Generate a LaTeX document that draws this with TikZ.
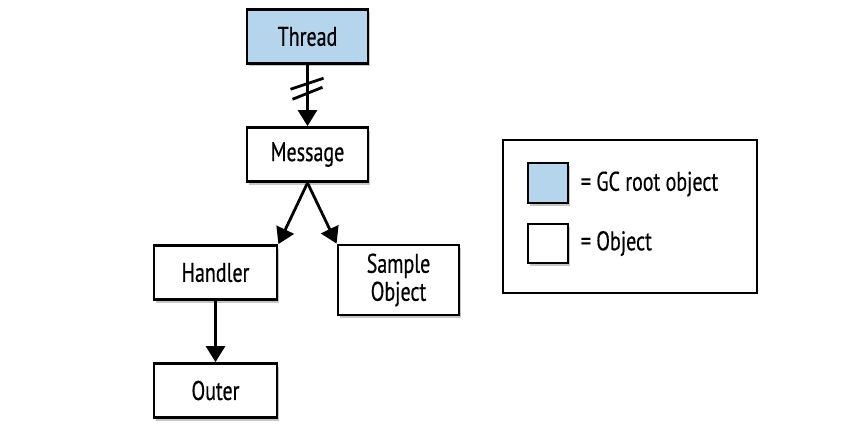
\documentclass[tikz,border=0pt]{standalone}
\usepackage{fontspec}
\setmainfont{PT Sans}[FakeStretch=0.74,FakeBold=0.5]
\usetikzlibrary{calc,arrows.meta,shadows}
\definecolor{gcblue}{RGB}{180,213,235}

\begin{document}
\begin{tikzpicture}[x=1pt,y=-1pt]
  \tikzset{obj/.style={shape=rectangle,draw,line width=2.8pt,fill=white,text centered,
      minimum width=121pt,minimum height=54pt,font=\fontsize{27}{28}\selectfont,
      drop shadow={shadow xshift=2pt,shadow yshift=-3pt,opacity=0.45}}};
  \tikzset{ref/.style={line width=2.8pt,arrows={-Triangle[length=16pt,width=19pt]}}};
  \useasboundingbox (0,0) rectangle (846,444);
  \node[obj,fill=gcblue] (T) at (307.5,36.5){Thread};
  \node[obj] (M) at (307.5,154.5){Message};
  \node[obj,minimum width=123pt] (H) at (215.5,272.5){Handler};
  \node[obj,minimum height=70pt,align=center] (S) at (398.5,280){Sample\\Object};
  \node[obj,minimum width=123pt] (O) at (215.5,390.5){Outer};
  % legend
  \node[draw,line width=2.8pt,minimum width=254pt,minimum height=153pt] (L) at (630,216.5){};
  \node[obj,fill=gcblue,minimum width=40pt,minimum height=40pt] (LG) at (548,183){};
  \node[obj,minimum width=40pt,minimum height=39pt] (LO) at (548,243.5){};
  \node[anchor=west,font=\fontsize{27}{28}\selectfont] (LGt) at ($(LG.east)+(8,1)$){= GC root object};
  \node[anchor=west,font=\fontsize{27}{28}\selectfont] (LOt) at ($(LO.east)+(8,0)$){= Object};
  \draw[ref] (T) -- (M);
  \coordinate (B) at ($(T.south)!0.3!(M.north)$);
  \draw[line width=2.8pt] ($(B)+(-17,6)$) -- ($(B)+(16,-5)$);
  \draw[line width=2.8pt] ($(B)+(-15,16)$) -- ($(B)+(15,4)$);
  \draw[ref] (M.south) -- (H.north east);
  \draw[ref] (M.south) -- (S.north west);
  \draw[ref] (H) -- (O);
\end{tikzpicture}
\end{document}
